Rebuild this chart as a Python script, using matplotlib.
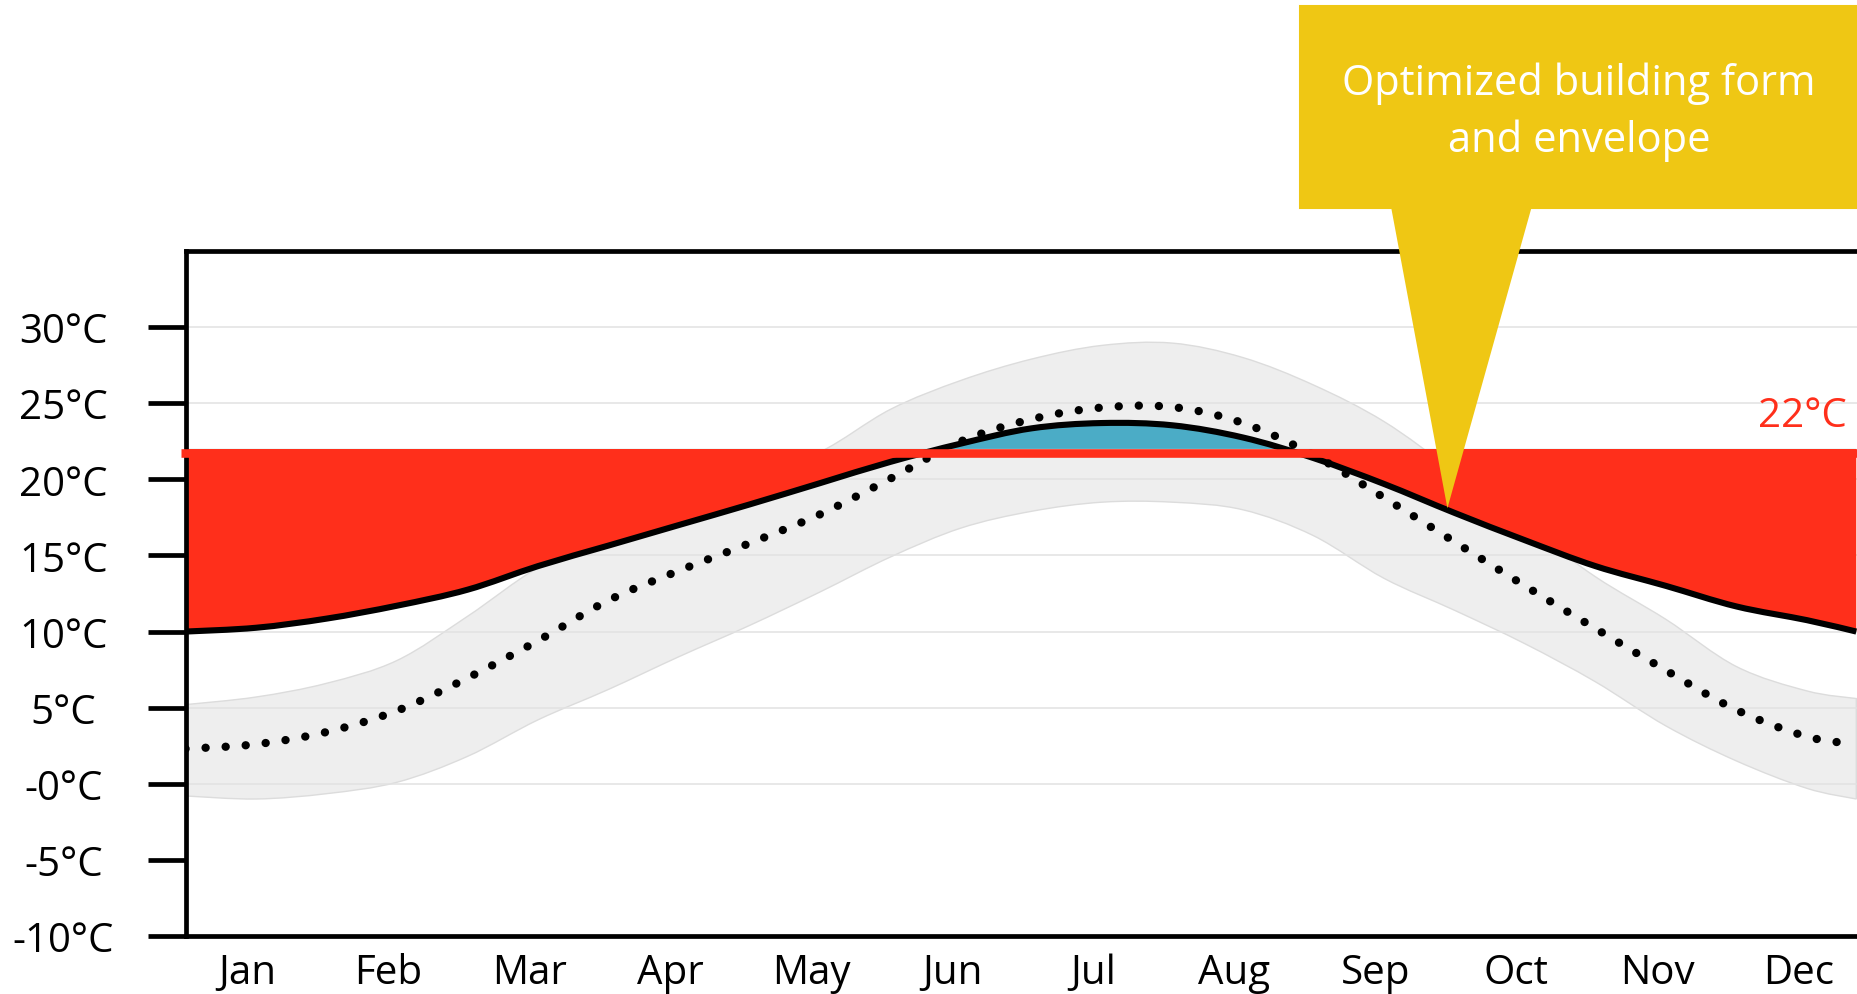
import matplotlib.pyplot as plt
import numpy as np
from matplotlib.patches import Polygon, PathPatch, Rectangle
from matplotlib.path import Path

plt.rcParams["font.family"] = ["Open Sans", "DejaVu Sans"]

# month positions of the sampled points (0 = start of Jan)
month_pos = [0, 0.5, 1, 1.5, 2, 2.5, 3, 3.5, 4, 4.5, 5, 5.5, 6, 6.5, 7,
             7.5, 8, 8.5, 9, 9.5, 10, 10.5, 11, 11.5, 11.85]

# free-running indoor temperature (solid)
indoor = [10.0, 10.25, 10.85, 11.7, 12.75, 14.3, 15.65, 17.0, 18.35, 19.75,
          21.15, 22.35, 23.35, 23.7, 23.55, 22.75, 21.4, 19.7, 17.8, 16.0,
          14.3, 13.0, 11.65, 10.75, 10.0]

# outdoor mean temperature (dotted)
outdoor = [2.3, 2.6, 3.4, 4.8, 6.95, 9.4, 12.05, 14.0, 15.8, 17.7,
           20.05, 22.5, 23.95, 24.72, 24.75, 23.7, 21.6, 18.8, 15.9, 13.0,
           10.2, 7.45, 4.85, 3.1, 2.6]

# outdoor daily range (grey band)
band_high = [5.2, 5.7, 6.6, 8.1, 11.0, 14.2, 16.3, 18.4, 20.2, 21.8,
             24.6, 26.5, 27.9, 28.8, 28.95, 28.0, 26.2, 23.8, 20.5, 17.0,
             13.6, 10.8, 7.7, 6.1, 5.6]
band_low = [-0.8, -1.0, -0.65, 0.1, 1.8, 4.2, 6.2, 8.35, 10.4, 12.6,
            14.9, 16.8, 17.9, 18.5, 18.5, 18.0, 16.3, 13.5, 11.4, 9.2,
            6.7, 3.8, 1.5, -0.3, -1.0]

setpoint = 22
months = ["Jan", "Feb", "Mar", "Apr", "May", "Jun",
          "Jul", "Aug", "Sep", "Oct", "Nov", "Dec"]
ytick_vals = [-10, -5, 0, 5, 10, 15, 20, 25, 30]
ytick_labels = ["-10°C", "-5°C", "-0°C", "5°C", "10°C", "15°C",
                "20°C", "25°C", "30°C"]

RED = "#FF2F1B"
BLUE = "#4BACC6"
YELLOW = "#EFC714"


def smooth(xs, ys):
    # Bezier segments through the points, like a smoothed Excel line
    pts = np.column_stack([xs, ys]).astype(float)
    n = len(pts)
    verts = [pts[0]]
    codes = [Path.MOVETO]
    for i in range(n - 1):
        p0 = pts[max(i - 1, 0)]
        p1 = pts[i]
        p2 = pts[i + 1]
        p3 = pts[min(i + 2, n - 1)]
        verts += [p1 + (p2 - p0) / 6, p2 - (p3 - p1) / 6, p2]
        codes += [Path.CURVE4] * 3
    return verts, codes


fig = plt.figure(figsize=(18.57, 9.95), dpi=100)
ax = fig.add_axes([0.0999, 0.0583, 0.9111, 0.6884])
ax.set_xlim(0, 12)
ax.set_ylim(-10, 35)

# grey band
v_hi, c_hi = smooth(month_pos, band_high)
v_lo, c_lo = smooth(month_pos[::-1], band_low[::-1])
band_path = Path(v_hi + v_lo + [v_hi[0]],
                 c_hi + [Path.LINETO] + c_lo[1:] + [Path.CLOSEPOLY])
ax.add_patch(PathPatch(band_path, facecolor="#EEEEEE", edgecolor="#DCDCDC",
                       lw=1, zorder=1))

for v in range(0, 31, 5):
    ax.axhline(v, color="#E2E2E2", lw=1.1, zorder=1.5)

# red / blue areas between indoor curve and the 22 °C setpoint
v_in, c_in = smooth(month_pos, indoor)
area_path = Path(v_in + [(month_pos[-1], setpoint), (month_pos[0], setpoint), v_in[0]],
                 c_in + [Path.LINETO, Path.LINETO, Path.CLOSEPOLY])
area_clip = PathPatch(area_path, transform=ax.transData)
red_rect = Rectangle((0, -10), 12, setpoint + 10, facecolor=RED, lw=0, zorder=2)
blue_rect = Rectangle((0, setpoint), 12, 13, facecolor=BLUE, lw=0, zorder=2)
for r in (red_rect, blue_rect):
    ax.add_patch(r)
    r.set_clip_path(area_clip)

v_out, c_out = smooth(month_pos, outdoor)
ax.add_patch(PathPatch(Path(v_out, c_out), fill=False, edgecolor="black", lw=6,
                       linestyle=(0, (0.01, 2.4)), capstyle="round", zorder=3))
ax.add_patch(PathPatch(Path(v_in, c_in), fill=False, edgecolor="black", lw=4.4,
                       capstyle="butt", joinstyle="round", zorder=3.5))
ax.plot([-0.03, 12], [21.71, 21.71], color=RED, lw=6.2,
        solid_capstyle="butt", clip_on=False, zorder=4)

ax.text(11.78, 24.2, "22°C", color=RED, fontsize=29, ha="right", va="center")

ax.set_yticks(ytick_vals)
ax.set_yticklabels(ytick_labels, fontsize=29)
ax.set_xticks(np.arange(12) + 0.44)
ax.set_xticklabels(months, fontsize=29)
ax.tick_params(axis="y", length=27.4, width=3.4, pad=60.5)
ax.tick_params(axis="x", length=0, pad=12)
for lab in ax.get_yticklabels():
    lab.set_horizontalalignment("center")
for side in ["left", "bottom", "top"]:
    ax.spines[side].set_linewidth(3.4)
    ax.spines[side].set_zorder(3.8)
ax.spines["right"].set_visible(False)

# callout
fig.canvas.draw()
tip = fig.transFigure.inverted().transform(ax.transData.transform((8.95, 18.1)))
verts = [(0.6995, 0.994), (1.01, 0.994), (1.01, 0.7889), (0.8245, 0.7889),
         tuple(tip), (0.7493, 0.7889), (0.6995, 0.7889)]
fig.patches.append(Polygon(verts, closed=True, facecolor=YELLOW, edgecolor="none",
                           transform=fig.transFigure, zorder=10))
fig.text(0.8503, 0.9155, "Optimized building form", color="white", fontsize=30,
         ha="center", va="center", zorder=11)
fig.text(0.8503, 0.8588, "and envelope", color="white", fontsize=30,
         ha="center", va="center", zorder=11)

fig.savefig("out.png", dpi=100)
